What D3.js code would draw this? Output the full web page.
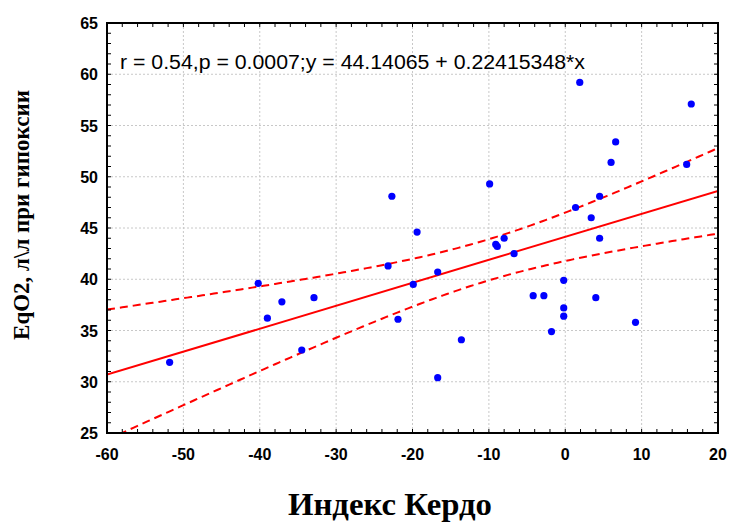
<!DOCTYPE html>
<html>
<head>
<meta charset="utf-8">
<script src="https://cdn.jsdelivr.net/npm/d3@7"></script>
<style>
  body { margin: 0; background: #fff; }
  svg { display: block; }
</style>
</head>
<body>
<svg id="chart" width="730" height="524"></svg>
<script>
// Kerdo index vs EqO2 under hypoxia
const kerdo = [-51.8, -40.2, -39.0, -37.1, -34.5, -32.9, -23.2, -22.7, -21.9, -19.9,
  -19.4, -16.7, -16.7, -13.6, -9.9, -9.1, -8.9, -8.0, -6.7, -4.2,
  -2.8, -1.8, -0.2, -0.2, -0.2, 1.35, 1.9, 3.4, 4.0, 4.5,
  4.5, 6.0, 6.6, 9.2, 15.9, 16.5];
const eqo2 = [31.9, 39.6, 36.2, 37.8, 33.1, 38.2, 41.3, 48.1, 36.1, 39.5,
  44.6, 40.7, 30.4, 34.1, 49.3, 43.4, 43.2, 44.0, 42.5, 38.4,
  38.4, 34.9, 39.9, 37.2, 36.4, 47.0, 59.2, 46.0, 38.2, 48.1,
  44.0, 51.4, 53.4, 35.8, 51.2, 57.1];

const xTicks = [-60, -50, -40, -30, -20, -10, 0, 10, 20];
const yTicks = [25, 30, 35, 40, 45, 50, 55, 60, 65];
const fitA = 44.14065, fitB = 0.22415348;
const label = "r = 0.54,p = 0.0007;y = 44.14065 + 0.22415348*x";

const margin = {left: 107, right: 12, top: 23, bottom: 91};
const W = 730, H = 524;
const svg = d3.select("#chart");

const x = d3.scaleLinear().domain([-60, 20]).range([margin.left, W - margin.right]);
const y = d3.scaleLinear().domain([25, 65]).range([H - margin.bottom, margin.top]);

svg.append("clipPath").attr("id", "plotclip").append("rect")
  .attr("x", x(-60)).attr("y", y(65))
  .attr("width", x(20) - x(-60)).attr("height", y(25) - y(65));

// grid
const grid = svg.append("g").attr("stroke", "#c8c8c8").attr("stroke-dasharray", "2,2");
grid.selectAll("line.v").data(xTicks.slice(1, -1)).join("line")
  .attr("x1", d => x(d)).attr("x2", d => x(d))
  .attr("y1", y(65)).attr("y2", y(25));
grid.selectAll("line.h").data(yTicks.slice(1, -1)).join("line")
  .attr("x1", x(-60)).attr("x2", x(20))
  .attr("y1", d => y(d)).attr("y2", d => y(d));

// confidence band (95%) around the given fit line
const n = kerdo.length;
const mx = d3.mean(kerdo);
const sxx = d3.sum(kerdo, v => (v - mx) * (v - mx));
const sse = d3.sum(kerdo, (v, i) => Math.pow(eqo2[i] - (fitA + fitB * v), 2));
const s = Math.sqrt(sse / (n - 2));
const tcrit = 2.03;
const xs = d3.range(-60, 20.01, 0.5);
const half = v => tcrit * s * Math.sqrt(1 / n + (v - mx) * (v - mx) / sxx);

const plot = svg.append("g").attr("clip-path", "url(#plotclip)");
const line = d3.line().x(d => x(d[0])).y(d => y(d[1]));

plot.append("path")
  .attr("d", line([[-60, fitA + fitB * -60], [20, fitA + fitB * 20]]))
  .attr("fill", "none").attr("stroke", "#ff0000").attr("stroke-width", 2);
[1, -1].forEach(sg => {
  plot.append("path")
    .attr("d", line(xs.map(v => [v, fitA + fitB * v + sg * half(v)])))
    .attr("fill", "none").attr("stroke", "#ff0000").attr("stroke-width", 2)
    .attr("stroke-dasharray", "8,5");
});

// points
plot.selectAll("circle").data(kerdo).join("circle")
  .attr("cx", d => x(d)).attr("cy", (d, i) => y(eqo2[i]))
  .attr("r", 3.6).attr("fill", "#0000ff");

// minor ticks inside the frame
const tk = svg.append("g").attr("stroke", "#000").attr("stroke-width", 1);
const xm = d3.range(-60, 20.01, 2);
const ym = d3.range(25, 65.01, 1);
tk.selectAll("line.xb").data(xm).join("line")
  .attr("x1", d => x(d)).attr("x2", d => x(d))
  .attr("y1", y(25)).attr("y2", y(25) - 4);
tk.selectAll("line.xt").data(xm).join("line")
  .attr("x1", d => x(d)).attr("x2", d => x(d))
  .attr("y1", y(65)).attr("y2", y(65) + 4);
tk.selectAll("line.yl").data(ym).join("line")
  .attr("x1", x(-60)).attr("x2", x(-60) + 4)
  .attr("y1", d => y(d)).attr("y2", d => y(d));
tk.selectAll("line.yr").data(ym).join("line")
  .attr("x1", x(20)).attr("x2", x(20) - 4)
  .attr("y1", d => y(d)).attr("y2", d => y(d));

// frame
svg.append("rect")
  .attr("x", x(-60)).attr("y", y(65))
  .attr("width", x(20) - x(-60)).attr("height", y(25) - y(65))
  .attr("fill", "none").attr("stroke", "#000").attr("stroke-width", 2);

// tick labels
svg.append("g").selectAll("text").data(xTicks).join("text")
  .attr("x", d => x(d)).attr("y", y(25) + 27)
  .attr("text-anchor", "middle")
  .attr("font-family", "Liberation Sans, Arial, sans-serif")
  .attr("font-weight", "bold").attr("font-size", 16)
  .text(d => d);
svg.append("g").selectAll("text").data(yTicks).join("text")
  .attr("x", x(-60) - 9).attr("y", d => y(d) + 6)
  .attr("text-anchor", "end")
  .attr("font-family", "Liberation Sans, Arial, sans-serif")
  .attr("font-weight", "bold").attr("font-size", 16)
  .text(d => d);

// annotation
svg.append("text")
  .attr("x", 120).attr("y", 69)
  .attr("font-family", "Liberation Sans, Arial, sans-serif")
  .attr("font-size", 20)
  .attr("textLength", 465).attr("lengthAdjust", "spacingAndGlyphs")
  .text(label);

// axis titles
svg.append("text")
  .attr("x", 390).attr("y", 515)
  .attr("text-anchor", "middle")
  .attr("font-family", "Liberation Serif, Times New Roman, serif")
  .attr("font-weight", "bold").attr("font-size", 31)
  .attr("textLength", 204).attr("lengthAdjust", "spacingAndGlyphs")
  .text("Индекс Кердо");
svg.append("text")
  .attr("transform", "translate(29,215) rotate(-90)")
  .attr("text-anchor", "middle")
  .attr("font-family", "Liberation Serif, Times New Roman, serif")
  .attr("font-weight", "bold").attr("font-size", 23)
  .text("EqO2, л\\л при гипоксии");
</script>
</body>
</html>
